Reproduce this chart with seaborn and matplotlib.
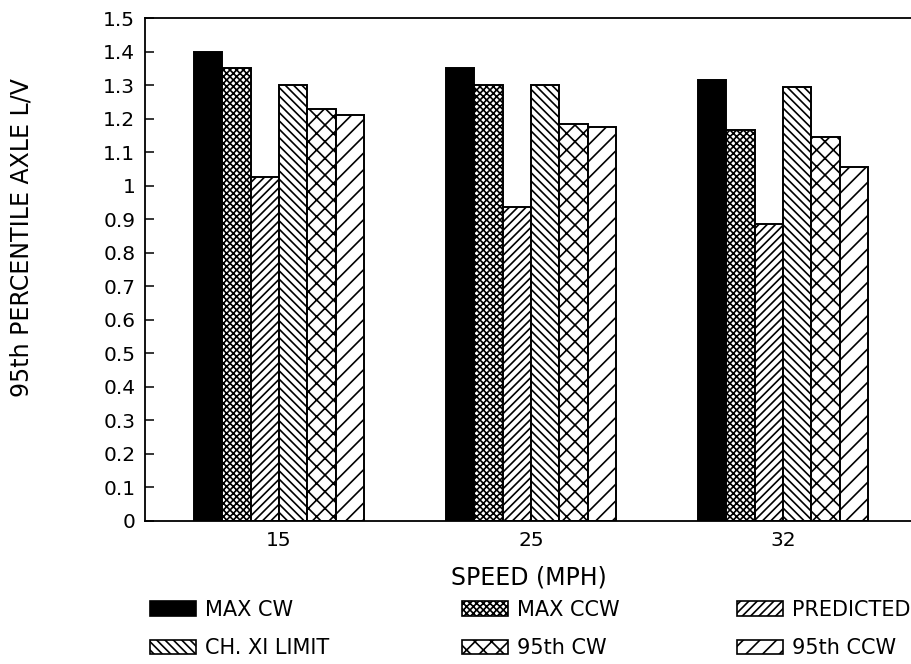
import seaborn as sns
import matplotlib.pyplot as plt
import pandas as pd
from matplotlib.patches import Patch

# values
speeds = ["15", "25", "32"]
series = ["MAX CW", "MAX CCW", "PREDICTED", "CH. XI LIMIT", "95th CW", "95th CCW"]
max_cw = [1.40, 1.35, 1.315]
max_ccw = [1.35, 1.30, 1.165]
predicted = [1.025, 0.935, 0.885]
ch_xi_limit = [1.30, 1.30, 1.295]
cw_95 = [1.23, 1.185, 1.145]
ccw_95 = [1.21, 1.175, 1.055]
y_ticks = [0, 0.1, 0.2, 0.3, 0.4, 0.5, 0.6, 0.7, 0.8, 0.9, 1, 1.1, 1.2, 1.3, 1.4, 1.5]

hatches = ["", "xxxxx", "////", "\\\\\\\\", "xx", "//"]
colors = ["black", "white", "white", "white", "white", "white"]

values = [max_cw, max_ccw, predicted, ch_xi_limit, cw_95, ccw_95]
rows = []
for name, vals in zip(series, values):
    for s, v in zip(speeds, vals):
        rows.append({"speed": s, "series": name, "lv": v})
df = pd.DataFrame(rows)

sns.set_style("ticks")
plt.rcParams["font.family"] = ["DejaVu Sans"]
plt.rcParams["text.color"] = "black"
plt.rcParams["axes.labelcolor"] = "black"
plt.rcParams["axes.edgecolor"] = "black"
plt.rcParams["xtick.color"] = "black"
plt.rcParams["ytick.color"] = "black"
plt.rcParams["hatch.linewidth"] = 1.2
plt.rcParams["hatch.color"] = "black"

fig = plt.figure(figsize=(9.12, 6.64), dpi=100)
ax = fig.add_axes([145 / 912, 143 / 664, 767 / 912, 503 / 664])

sns.barplot(data=df, x="speed", y="lv", hue="series", order=speeds, hue_order=series,
            palette=dict(zip(series, colors)), width=0.675, saturation=1,
            edgecolor="black", linewidth=1.4, legend=False, ax=ax)

for cont, h in zip(ax.containers, hatches):
    for bar in cont:
        bar.set_hatch(h)
        bar.set_edgecolor("black")

ax.set_xlim(-0.532, 2.512)
ax.set_ylim(0, 1.5)
ax.set_yticks(y_ticks)
ax.set_yticklabels([f"{v:g}" for v in y_ticks])
ax.tick_params(axis="y", direction="in", length=6.5, width=1.1, pad=7, labelsize=14.5)
ax.tick_params(axis="x", length=0, pad=7.5, labelsize=14.5)
for side in ["left", "bottom", "top"]:
    ax.spines[side].set_linewidth(1.3)
ax.spines["right"].set_visible(False)
ax.set_xlabel("SPEED (MPH)", fontsize=17, labelpad=10.5)
ax.set_ylabel("")
fig.text(22 / 912, 1 - 238 / 664, "95th PERCENTILE AXLE L/V", rotation=90,
         ha="center", va="center", fontsize=17)

handles = [Patch(facecolor=c, edgecolor="black", hatch=h, linewidth=1.2, label=n)
           for n, c, h in zip(series, colors, hatches)]
# legend: three columns of two rows, placed one column at a time
columns = [(150, [0, 3]), (462, [1, 4]), (737, [2, 5])]
for x0, idx in columns:
    fig.legend([handles[i] for i in idx], [series[i] for i in idx], ncol=1,
               loc="upper left", bbox_to_anchor=(x0 / 912, 1 - 600 / 664), frameon=False,
               borderpad=0, borderaxespad=0, fontsize=15, handlelength=2.2, handleheight=0.72,
               handletextpad=0.42, labelspacing=0.88)

fig.savefig("out.png", dpi=100)
